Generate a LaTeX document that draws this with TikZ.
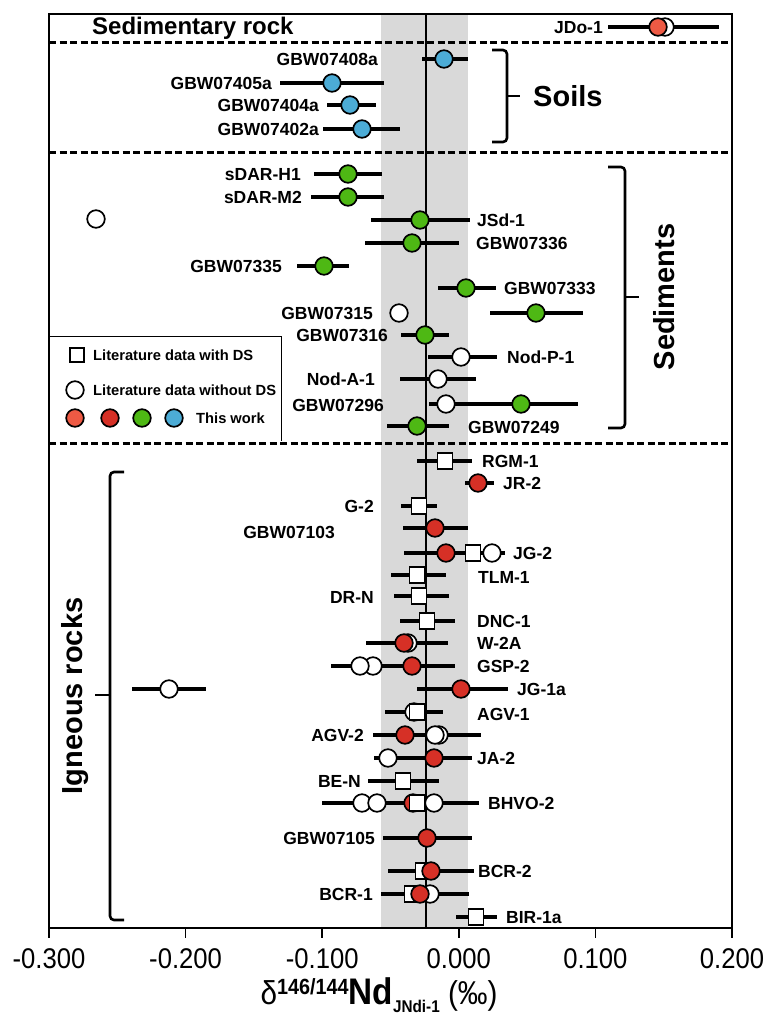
\documentclass[tikz,border=0pt]{standalone}
\usepackage{fontspec}
\setmainfont{Liberation Sans}
\newfontfamily\lab{Liberation Sans}
\newfontfamily\axf{Liberation Sans}[FakeStretch=0.9]
\definecolor{cOr}{RGB}{238,90,68}
\definecolor{cRd}{RGB}{214,48,38}
\definecolor{cGn}{RGB}{78,184,20}
\definecolor{cBl}{RGB}{76,172,214}
\definecolor{cBand}{RGB}{217,217,217}
\newcommand\eb[3]{\draw[ebar] (#2,#1) -- (#3,#1);}
\newcommand\dc[3]{\filldraw[mk,fill=#3] (#2,#1) circle[radius=8.8];}
\newcommand\ds[2]{\filldraw[mk,fill=white] (#2-7.5,#1-8) rectangle (#2+7.5,#1+8);}
\begin{document}
\begin{tikzpicture}[x=1pt,y=-1pt,
  ebar/.style={line width=3.6pt},
  mk/.style={draw=black,line width=1.7pt},
  lbl/.style={font={\lab\bfseries\fontsize{17.5}{18}\selectfont},inner sep=0pt,text height=12.5pt,text depth=0pt},
  leg/.style={font={\lab\bfseries\fontsize{14.7}{16}\selectfont},inner sep=0pt,anchor=west,text height=10.6pt,text depth=0pt},
  big/.style={font={\bfseries\fontsize{29}{30}\selectfont},inner sep=0pt},
  tick/.style={font={\axf\fontsize{28.5}{28}\selectfont},inner sep=0pt,text height=20.4pt,text depth=0pt},
  sep/.style={line width=3pt,dash pattern=on 7pt off 3.5pt},
  brk/.style={line width=2.6pt,rounded corners=4pt}]
\useasboundingbox (0,0) rectangle (769,1015);
% band and mean
\fill[cBand] (381,14) rectangle (468,928);
\draw[line width=2pt] (426,14) -- (426,928);
% frame
\draw[line width=2pt] (49,14) rectangle (732,928);
\foreach \t in {49,185.6,322.2,458.8,595.4,732} \draw[line width=1.5pt] (\t,928) -- (\t,938);
% separators
\draw[sep] (49,42) -- (732,42);
\draw[sep] (49,152) -- (732,152);
\draw[sep] (49,443) -- (732,443);
% legend
\filldraw[fill=white,draw=black,line width=1pt] (49,441) -- (49,336) -- (281,336) -- (281,441);
\draw[mk,fill=white] (70,348) rectangle (84,362);
\node[leg] (lg1) at (93,355) {Literature data with DS};
\dc{390}{75}{white}
\node[leg] (lg2) at (93,390) {Literature data without DS};
\dc{418}{75}{cOr}\dc{418}{110}{cRd}\dc{418}{142}{cGn}\dc{418}{174}{cBl}
\node[leg] (lg3) at (196,418) {This work};
% group titles
\node[font={\bfseries\fontsize{24}{25}\selectfont},inner sep=0pt,anchor=west] (tsr) at (92,28) {Sedimentary rock};
\node[big,anchor=west] (tso) at (533,96) {Soils};
\node[big,rotate=90] (tse) at (664,297) {Sediments};
\node[big,rotate=90] (tig) at (75,696) {Igneous rocks};
% brackets
\draw[brk] (492,50) -- (507,50) -- (507,142) -- (492,142);
\draw[line width=2.6pt] (507,96) -- (520,96);
\draw[brk] (608,167) -- (625,167) -- (625,428) -- (608,428);
\draw[line width=2.6pt] (625,297) -- (639,297);
\draw[brk] (124,472) -- (110,472) -- (110,920) -- (124,920);
\draw[line width=2.6pt] (110,695) -- (95,695);
% Sedimentary rock
\eb{27}{608}{719}\dc{27}{665}{white}\dc{27}{658}{cOr}
\node[lbl,anchor=east] (n1) at (603,27) {JDo-1};
% Soils
\eb{59}{422}{468}\dc{59}{444}{cBl}
\node[lbl,anchor=east] (n2) at (378,59) {GBW07408a};
\eb{83}{280}{384}\dc{83}{332}{cBl}
\node[lbl,anchor=east] (n3) at (272,83) {GBW07405a};
\eb{105}{327}{376}\dc{105}{350}{cBl}
\node[lbl,anchor=east] (n4) at (319,105) {GBW07404a};
\eb{129}{323}{400}\dc{129}{362}{cBl}
\node[lbl,anchor=east] (n5) at (319,129) {GBW07402a};
% Sediments
\eb{174}{314}{382}\dc{174}{348}{cGn}
\node[lbl,anchor=east] (n6) at (301,174) {sDAR-H1};
\eb{197}{311}{384}\dc{197}{348}{cGn}
\node[lbl,anchor=east] (n7) at (302,197) {sDAR-M2};
\dc{219}{96}{white}
\eb{220}{371}{470}\dc{220}{420}{cGn}
\node[lbl,anchor=west] (n8) at (477,220) {JSd-1};
\eb{243}{365}{459}\dc{243}{412}{cGn}
\node[lbl,anchor=west] (n9) at (476,243) {GBW07336};
\eb{266}{297}{349}\dc{266}{324}{cGn}
\node[lbl,anchor=east] (n10) at (282,266) {GBW07335};
\eb{288}{438}{496}\dc{288}{466}{cGn}
\node[lbl,anchor=west] (n11) at (504,288) {GBW07333};
\dc{313}{399}{white}
\node[lbl,anchor=east] (n12) at (373,313) {GBW07315};
\eb{313}{490}{583}\dc{313}{536}{cGn}
\eb{335}{401}{449}\dc{335}{425}{cGn}
\node[lbl,anchor=east] (n13) at (388,335) {GBW07316};
\eb{357}{428}{497}\dc{357}{461}{white}
\node[lbl,anchor=west] (n14) at (507,357) {Nod-P-1};
\eb{379}{400}{476}\dc{379}{438}{white}
\node[lbl,anchor=east] (n15) at (375,379) {Nod-A-1};
\eb{404}{429}{578}\dc{404}{446}{white}\dc{404}{521}{cGn}
\node[lbl,anchor=east] (n16) at (384,405) {GBW07296};
\eb{426}{387}{449}\dc{426}{417}{cGn}
\node[lbl,anchor=west] (n17) at (468,427) {GBW07249};
% Igneous rocks
\eb{461}{417}{472}\ds{461}{445}
\node[lbl,anchor=west] (n18) at (482,461) {RGM-1};
\eb{483}{465}{494}\dc{483}{478}{cRd}
\node[lbl,anchor=west] (n19) at (503,483) {JR-2};
\eb{506}{401}{437}\ds{506}{419}
\node[lbl,anchor=east] (n20) at (374,506) {G-2};
\eb{528}{403}{468}\dc{528}{435}{cRd}
\node[lbl,anchor=east] (n21) at (335,532) {GBW07103};
\eb{553}{404}{505}\dc{553}{446}{cRd}\ds{553}{473}\dc{553}{492}{white}
\node[lbl,anchor=west] (n22) at (513,553) {JG-2};
\eb{575}{391}{446}\ds{575}{417}
\node[lbl,anchor=west] (n23) at (478,577) {TLM-1};
\eb{596}{394}{449}\ds{596}{419}
\node[lbl,anchor=east] (n24) at (374,597) {DR-N};
\eb{621}{400}{455}\ds{621}{427}
\node[lbl,anchor=west] (n25) at (477,621) {DNC-1};
\eb{643}{366}{448}\dc{643}{408}{white}\dc{643}{404}{cRd}
\node[lbl,anchor=west] (n26) at (477,643) {W-2A};
\eb{666}{331}{455}\dc{666}{373}{white}\dc{666}{360}{white}\dc{666}{412}{cRd}
\node[lbl,anchor=west] (n27) at (477,666) {GSP-2};
\eb{689}{417}{508}\dc{689}{461}{cRd}
\node[lbl,anchor=west] (n28) at (517,689) {JG-1a};
\eb{689}{132}{206}\dc{689}{169}{white}
\eb{712}{385}{443}\dc{712}{414}{white}\ds{712}{417}
\node[lbl,anchor=west] (n29) at (477,714) {AGV-1};
\eb{735}{373}{481}\dc{735}{405}{cRd}\dc{735}{439}{white}\dc{735}{435}{white}
\node[lbl,anchor=east] (n30) at (364,735) {AGV-2};
\eb{758}{374}{472}\dc{758}{388}{white}\dc{758}{434}{cRd}
\node[lbl,anchor=west] (n31) at (477,758) {JA-2};
\eb{781}{368}{439}\ds{781}{403}
\node[lbl,anchor=east] (n32) at (361,781) {BE-N};
\eb{803}{322}{479}\dc{803}{362}{white}\dc{803}{377}{white}\dc{803}{413}{cRd}\ds{803}{417}\dc{803}{434}{white}
\node[lbl,anchor=west] (n33) at (488,803) {BHVO-2};
\eb{838}{383}{472}\dc{838}{427}{cRd}
\node[lbl,anchor=east] (n34) at (375,838) {GBW07105};
\eb{871}{388}{474}\ds{871}{423}\dc{871}{431}{cRd}
\node[lbl,anchor=west] (n35) at (478,871) {BCR-2};
\eb{894}{381}{469}\ds{894}{412}\dc{894}{430}{white}\dc{894}{420}{cRd}
\node[lbl,anchor=east] (n36) at (373,894) {BCR-1};
\eb{917}{456}{497}\ds{917}{476}
\node[lbl,anchor=west] (n37) at (506,917) {BIR-1a};
% axis labels
\node[tick] (t1) at (49,958) {-0.300};
\node[tick] (t2) at (185.6,958) {-0.200};
\node[tick] (t3) at (322.2,958) {-0.100};
\node[tick] (t4) at (458.8,958) {0.000};
\node[tick] (t5) at (595.4,958) {0.100};
\node[tick] (t6) at (732,958) {0.200};
\node[inner sep=0pt,anchor=base] (xl) at (379,1004) {\axf\fontsize{33}{33}\selectfont δ\raisebox{10pt}{\bfseries\fontsize{22}{22}\selectfont 146/144}{\bfseries\fontsize{37}{37}\selectfont Nd}\raisebox{-8pt}{\bfseries\fontsize{17}{17}\selectfont JNdi-1} (‰)};
\end{tikzpicture}
\end{document}
